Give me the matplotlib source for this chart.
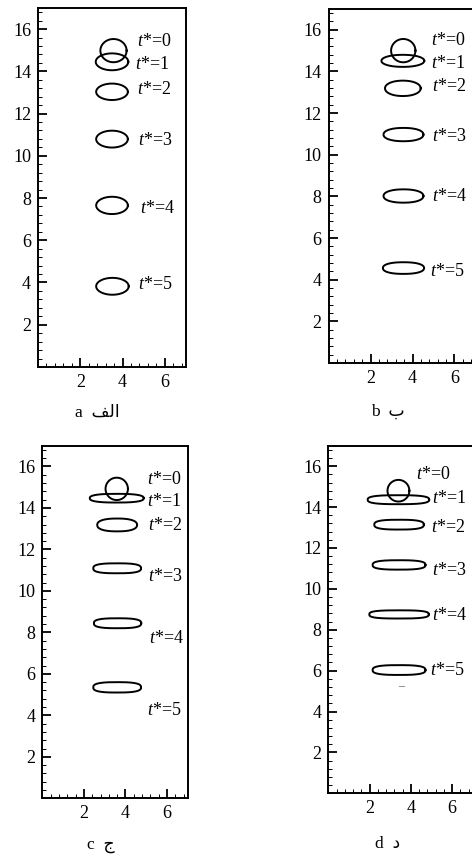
import matplotlib
matplotlib.use("Agg")
import matplotlib.pyplot as plt
import numpy as np
from matplotlib.ticker import MultipleLocator

plt.rcParams['font.family'] = ['Liberation Serif', 'DejaVu Sans']
plt.rcParams['mathtext.fontset'] = 'custom'
plt.rcParams['mathtext.it'] = 'Liberation Serif:italic'
plt.rcParams['mathtext.rm'] = 'Liberation Serif'

# time labels
times = ['0', '1', '2', '3', '4', '5']

# bubble shapes per panel: centre x, centre y, half width, half height, squareness
a_cx = [3.57, 3.50, 3.50, 3.50, 3.50, 3.52]
a_cy = [14.98, 14.45, 13.03, 10.79, 7.65, 3.82]
a_rx = [0.62, 0.77, 0.75, 0.75, 0.75, 0.77]
a_ry = [0.55, 0.40, 0.39, 0.40, 0.41, 0.40]
a_sq = [2.0, 2.0, 2.0, 2.0, 2.0, 2.0]
a_lx = [4.68, 4.60, 4.68, 4.72, 4.83, 4.72]
a_ly = [15.40, 14.30, 13.14, 10.74, 7.50, 3.90]

b_cx = [3.56, 3.54, 3.54, 3.57, 3.57, 3.57]
b_cy = [15.00, 14.51, 13.19, 10.97, 8.02, 4.56]
b_rx = [0.58, 1.02, 0.85, 0.95, 0.95, 0.98]
b_ry = [0.56, 0.29, 0.37, 0.32, 0.32, 0.28]
b_sq = [2.0, 2.1, 2.1, 2.2, 2.2, 2.3]
b_lx = [4.87, 4.87, 4.92, 4.92, 4.92, 4.82]
b_ly = [15.50, 14.40, 13.28, 10.90, 8.02, 4.40]

c_cx = [3.58, 3.58, 3.60, 3.60, 3.62, 3.60]
c_cy = [14.92, 14.47, 13.18, 11.09, 8.44, 5.35]
c_rx = [0.54, 1.30, 0.96, 1.15, 1.14, 1.15]
c_ry = [0.54, 0.21, 0.31, 0.24, 0.24, 0.25]
c_sq = [2.0, 2.6, 2.4, 2.8, 2.8, 2.8]
c_lx = [5.04, 5.04, 5.09, 5.09, 5.12, 5.04]
c_ly = [15.35, 14.30, 13.15, 10.69, 7.72, 4.21]

d_cx = [3.40, 3.40, 3.43, 3.43, 3.43, 3.43]
d_cy = [14.80, 14.36, 13.14, 11.17, 8.75, 6.03]
d_rx = [0.53, 1.49, 1.20, 1.28, 1.44, 1.28]
d_ry = [0.53, 0.22, 0.24, 0.23, 0.20, 0.24]
d_sq = [2.0, 2.8, 2.8, 2.8, 3.0, 2.8]
d_lx = [4.23, 5.02, 4.98, 5.02, 5.02, 4.94]
d_ly = [15.60, 14.40, 13.00, 10.90, 8.70, 6.03]

# tiny satellite drop seen under panel d
d_drop_x = [3.45, 3.67]
d_drop_y = [5.26, 5.26]

captions = ['a  \uFED2\uFEDF\u0627', 'b  \u0628', 'c  \u062C', 'd  \u062F']

panels = [
    (a_cx, a_cy, a_rx, a_ry, a_sq, a_lx, a_ly),
    (b_cx, b_cy, b_rx, b_ry, b_sq, b_lx, b_ly),
    (c_cx, c_cy, c_rx, c_ry, c_sq, c_lx, c_ly),
    (d_cx, d_cy, d_rx, d_ry, d_sq, d_lx, d_ly),
]

rects = [
    [0.0805, 0.5713, 0.3136, 0.4194],
    [0.6960, 0.5759, 0.3114, 0.4136],
    [0.0900, 0.0674, 0.3076, 0.4119],
    [0.6955, 0.0732, 0.3060, 0.4061],
]
caption_pos = [(0.207, 0.513), (0.822, 0.514), (0.213, 0.009), (0.822, 0.009)]


def shape(cx, cy, rx, ry, n):
    th = np.linspace(0, 2 * np.pi, 400)
    c, s = np.cos(th), np.sin(th)
    x = cx + rx * np.sign(c) * np.abs(c) ** (2.0 / n)
    y = cy + ry * np.sign(s) * np.abs(s) ** (2.0 / n)
    return x, y


fig = plt.figure(figsize=(4.72, 8.56), dpi=100)

for i, (cx, cy, rx, ry, sq, lx, ly) in enumerate(panels):
    ax = fig.add_axes(rects[i])
    for k in range(len(times)):
        x, y = shape(cx[k], cy[k], rx[k], ry[k], sq[k])
        ax.plot(x, y, color='black', lw=1.4)
        ax.text(lx[k], ly[k], '$t$*=' + times[k], fontsize=13,
                va='center', ha='left')
    if i == 3:
        ax.plot(d_drop_x, d_drop_y, color='0.6', lw=0.8)

    ax.set_xlim(0, 7)
    ax.set_ylim(0, 17)
    ax.xaxis.set_minor_locator(MultipleLocator(0.4))
    ax.yaxis.set_minor_locator(MultipleLocator(0.4))
    ax.set_xticks([2, 4, 6])
    ax.set_yticks([2, 4, 6, 8, 10, 12, 14, 16])
    ax.tick_params(which='major', direction='in', length=6.5, width=1.3,
                   labelsize=13, pad=5)
    ax.tick_params(which='minor', direction='in', length=3, width=0.7)
    ax.tick_params(top=False, right=False, which='both')
    for sp in ax.spines.values():
        sp.set_linewidth(1.4)

    fig.text(caption_pos[i][0], caption_pos[i][1], captions[i],
             fontsize=12.5, ha='center', va='baseline',
             family=['Liberation Serif', 'DejaVu Sans'])

fig.savefig('out.png', dpi=100)
